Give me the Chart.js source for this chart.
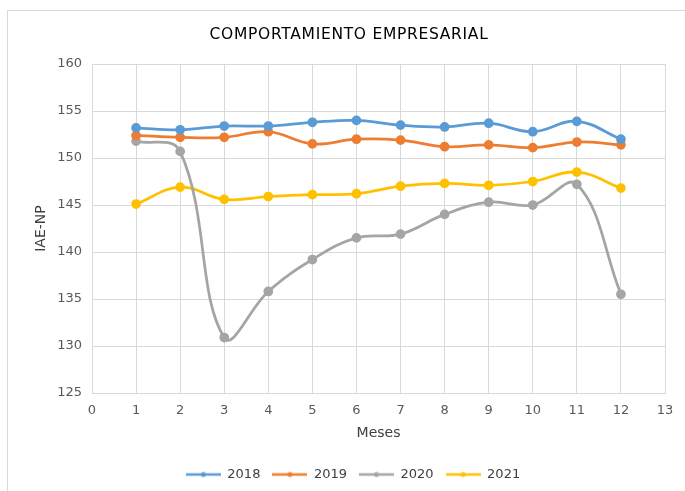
<!DOCTYPE html>
<html><head><meta charset="utf-8">
<script src="https://cdn.jsdelivr.net/npm/chart.js@4.4.0/dist/chart.umd.min.js"></script>
<style>html,body{margin:0;padding:0;background:#fff}#wrap{width:685px;height:491px;position:relative}</style>
</head><body><div id="wrap"><canvas id="c" width="685" height="491"></canvas></div>
<script>
const chartTitle = 'COMPORTAMIENTO EMPRESARIAL';
const xTitle = 'Meses';
const yTitle = 'IAE-NP';
const months = [1,2,3,4,5,6,7,8,9,10,11,12];
const s2018 = [153.2,153.0,153.4,153.4,153.8,154.0,153.5,153.3,153.7,152.8,153.9,152.0];
const s2019 = [152.4,152.2,152.2,152.8,151.5,152.0,151.9,151.2,151.4,151.1,151.7,151.4];
const s2020 = [151.8,150.7,130.9,135.8,139.2,141.5,141.9,144.0,145.3,145.0,147.2,135.5];
const s2021 = [145.1,146.9,145.6,145.9,146.1,146.2,147.0,147.3,147.1,147.5,148.5,146.8];
const seriesNames = ['2018','2019','2020','2021'];
const colors = ['#5B9BD5','#ED7D31','#A5A5A5','#FFC000'];
const allSeries = [s2018,s2019,s2020,s2021];

function legendIcon(color){
  const c = document.createElement('canvas'); c.width = 35; c.height = 8;
  const g = c.getContext('2d');
  g.strokeStyle = color; g.lineWidth = 2.5;
  g.beginPath(); g.moveTo(0,4); g.lineTo(35,4); g.stroke();
  g.fillStyle = color; g.beginPath(); g.arc(17.5,4,2.5,0,Math.PI*2); g.fill();
  return c;
}
const icons = colors.map(legendIcon);

const framePlugin = {
  id:'frame',
  afterLayout(chart){
    if (chart.legend){ chart.legend.left += 5.5; chart.legend.right += 5.5; }
  },
  beforeDraw(chart){
    const g = chart.ctx; g.save();
    g.fillStyle='#fff'; g.fillRect(0,0,chart.width,chart.height);
    g.strokeStyle='#d9d9d9'; g.lineWidth=1;
    g.strokeRect(7.5,10.5,chart.width+5,chart.height);
    g.fillStyle='#000'; g.font='15.5px "DejaVu Sans"';
    g.textAlign='center'; g.textBaseline='middle';
    if ('letterSpacing' in g) g.letterSpacing='0.7px';
    g.fillText(chartTitle, 349, 34.5);
    g.restore();
  }
};

new Chart(document.getElementById('c'), {
  type:'line',
  data:{
    datasets: allSeries.map((s,i)=>({
      label: seriesNames[i],
      data: months.map((m,j)=>({x:m,y:s[j]})),
      borderColor: colors[i], backgroundColor: colors[i],
      borderWidth: 2.75, pointRadius: 3.5, pointHoverRadius: 3.5,
      tension: 0.4, fill:false, pointStyle:'circle'
    }))
  },
  options:{
    responsive:false, animation:false,
    layout:{padding:{left:30,right:20,top:64,bottom:0}},
    plugins:{
      title:{display:false},
      legend:{position:'bottom',
        labels:{usePointStyle:true, pointStyleWidth:35,
          generateLabels(chart){
            return chart.data.datasets.map((d,i)=>({text:d.label,pointStyle:icons[i],fillStyle:colors[i],strokeStyle:colors[i],fontColor:'#404040',datasetIndex:i,lineWidth:0}));
          },
          color:'#404040',font:{family:'DejaVu Sans',size:13},padding:12,boxWidth:35,boxHeight:13}},
      tooltip:{enabled:false}
    },
    scales:{
      x:{type:'linear',min:0,max:13,
        ticks:{stepSize:1,color:'#595959',font:{family:'DejaVu Sans',size:13},padding:10,maxRotation:0},
        grid:{color:'#d9d9d9',lineWidth:1,drawTicks:false},
        border:{color:'#d9d9d9'},
        title:{display:true,text:xTitle,color:'#404040',font:{family:'DejaVu Sans',size:14},padding:{top:-4,bottom:14.6}}
      },
      y:{min:125,max:160,
        ticks:{stepSize:5,color:'#595959',font:{family:'DejaVu Sans',size:13},padding:10},
        grid:{color:'#d9d9d9',lineWidth:1,drawTicks:false},
        border:{color:'#d9d9d9'},
        title:{display:true,text:yTitle,color:'#404040',font:{family:'DejaVu Sans',size:14},padding:{top:3,bottom:0}},
        afterFit(s){ s.width = 62; }
      }
    }
  },
  plugins:[framePlugin]
});
</script></body></html>
